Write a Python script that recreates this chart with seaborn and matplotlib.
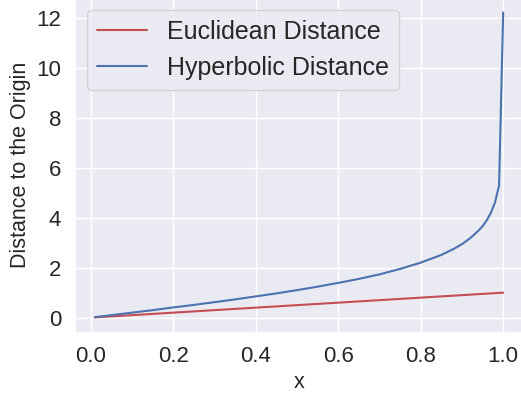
import numpy as np
import seaborn as sns
import matplotlib.pyplot as plt

# values
x_vals = [0.01, 0.05, 0.10, 0.15, 0.20, 0.25, 0.30, 0.35, 0.40, 0.45, 0.50,
          0.55, 0.60, 0.65, 0.70, 0.75, 0.80, 0.85, 0.88, 0.90, 0.92, 0.94,
          0.95, 0.96, 0.97, 0.98, 0.99, 1.00]
euclid = [0.01, 0.05, 0.10, 0.15, 0.20, 0.25, 0.30, 0.35, 0.40, 0.45, 0.50,
          0.55, 0.60, 0.65, 0.70, 0.75, 0.80, 0.85, 0.88, 0.90, 0.92, 0.94,
          0.95, 0.96, 0.97, 0.98, 0.99, 1.00]
hyper = [0.02, 0.10, 0.20, 0.30, 0.41, 0.51, 0.62, 0.73, 0.85, 0.97, 1.10,
         1.24, 1.39, 1.55, 1.73, 1.95, 2.20, 2.51, 2.75, 2.94, 3.18, 3.48,
         3.66, 3.89, 4.19, 4.60, 5.29, 12.21]

sns.set_theme(style="darkgrid", color_codes=True)
plt.rcParams['font.family'] = ['Liberation Sans', 'DejaVu Sans']

fig = plt.figure(figsize=(5.21, 3.96), dpi=100)
# the reference is cropped tight: axes run slightly past the top and right edges
ax = fig.add_axes([0.143, 0.160, 0.862, 0.847])
sns.lineplot(x=x_vals, y=euclid, color="r", label="Euclidean Distance", ax=ax, linewidth=1.5)
sns.lineplot(x=x_vals, y=hyper, color="b", label="Hyperbolic Distance", ax=ax, linewidth=1.5)

ax.set_xlabel("x", fontsize=15.5)
ax.set_ylabel("Distance to the Origin", fontsize=15.5)
ax.set_yticks([0, 2, 4, 6, 8, 10, 12])
ax.tick_params(labelsize=16)
ax.legend(loc="upper left", fontsize=18)

plt.savefig("out.png", dpi=100)
